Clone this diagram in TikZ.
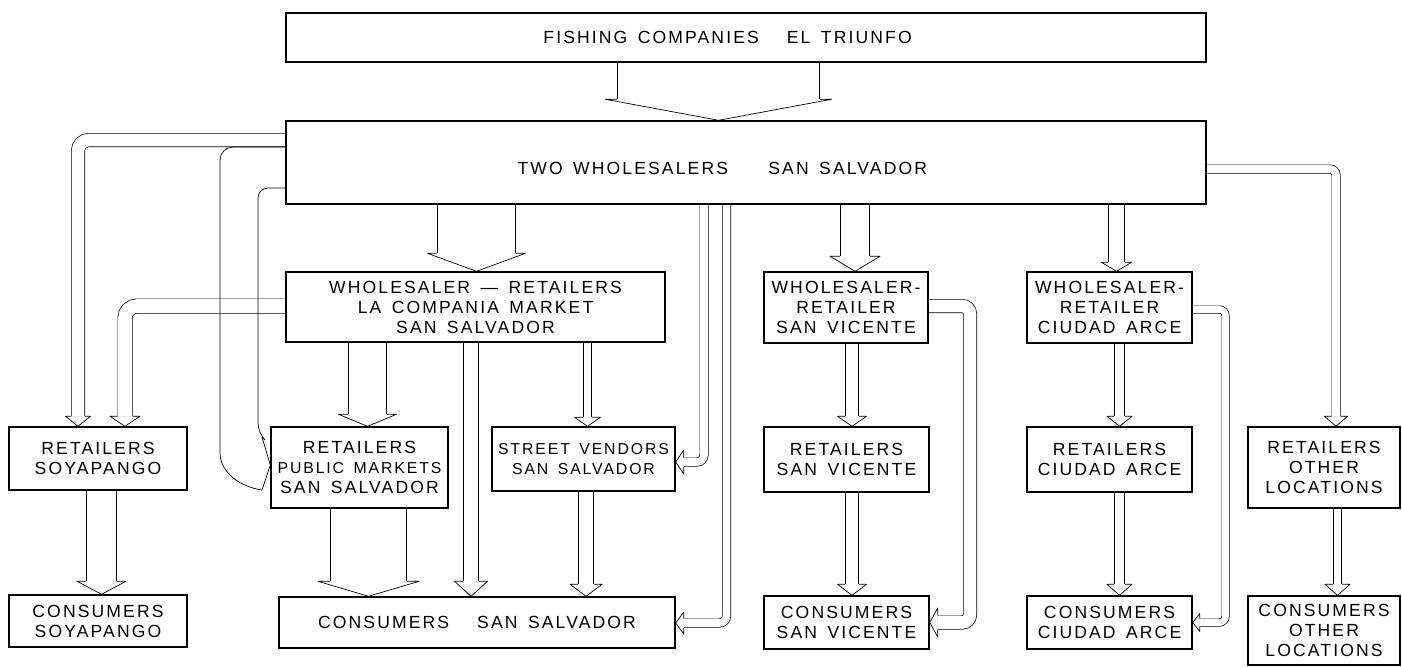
\documentclass[tikz,border=0pt]{standalone}
\usepackage{fontspec}
\usepackage{tikz}
\usetikzlibrary{calc,backgrounds}
\newfontfamily\lettering{Liberation Sans}[LetterSpace=12,WordSpace=1.5]

% open arrow head: tip, angle, shaft width, half width, length
\newcommand\tipat[5]{%
  \draw[tiphead, shift={(#1)}, rotate=#2] ({-#3/2},{-#5}) -- ({-#4},{-#5}) -- (0,0) -- ({#4},{-#5}) -- ({#3/2},{-#5});}
% straight hollow arrow: from, to, x, shaft width, half width, length
\newcommand\flowdown[6]{%
  \coordinate (tip) at (#3,0 |- #2.north);
  \draw[pipe=#4] (#3,0 |- #1.south) -- ($(tip)+(0,-#6)$);
  \tipat{tip}{0}{#4}{#5}{#6}}

\begin{document}
\begin{tikzpicture}[x=0.02cm, y=-0.02cm, line width=0.8pt,
  box/.style={draw, inner sep=0pt, align=center, font=\lettering\fontsize{10}{11.4}\selectfont},
  wh/.style 2 args={minimum width=#1*0.02cm, minimum height=#2*0.02cm},
  pipe/.style={double, double distance=#1*0.02cm-0.8pt},
  tiphead/.style={fill=white, line join=round}]
  \useasboundingbox (0,0) rectangle (1402,667);

  \node[box, wh={920}{49}] (fish) at (746,37.5) {\mbox{FISHING COMPANIES\hspace{10pt} EL TRIUNFO\hspace{21pt}}};
  \node[box, wh={920}{83}] (two) at (746,162.5) {\raisebox{-6.6pt}[0pt][0pt]{TWO WHOLESALERS\hspace{17pt} SAN SALVADOR\hspace{27pt}}};
  \node[box, wh={379}{70}] (lacomp) at (475.5,307) {WHOLESALER — RETAILERS\\LA COMPANIA MARKET\\SAN SALVADOR};
  \node[box, wh={164}{71}] (wrsv) at (846,307.5) {WHOLESALER-\\RETAILER\\SAN VICENTE};
  \node[box, wh={165}{71}] (wrca) at (1109.5,307.5) {WHOLESALER-\\RETAILER\\CIUDAD ARCE};

  \node[box, wh={178}{63}] (retsoy) at (98,458.5) {RETAILERS\\SOYAPANGO};
  \node[box, wh={177}{81}] (retpub) at (359.5,467.5) {RETAILERS\\{\fontsize{9}{11.4}\selectfont PUBLIC MARKETS}\\SAN SALVADOR};
  \node[box, wh={183}{64}, font=\lettering\fontsize{9}{11.4}\selectfont] (street) at (583.5,459) {STREET VENDORS\\SAN SALVADOR};
  \node[box, wh={165}{65}] (retsv) at (846.5,459.5) {RETAILERS\\SAN VICENTE};
  \node[box, wh={165}{65}] (retca) at (1109.5,459.5) {RETAILERS\\CIUDAD ARCE};
  \node[box, wh={152}{81}] (retoth) at (1324,467.5) {RETAILERS\\OTHER\\LOCATIONS};

  \node[box, wh={178}{52}] (consoy) at (98,621) {CONSUMERS\\SOYAPANGO};
  \node[box, wh={396}{51}] (conss) at (477,622.5) {CONSUMERS\hspace{10pt} SAN SALVADOR};
  \node[box, wh={165}{53}] (consv) at (846.5,622.5) {CONSUMERS\\SAN VICENTE};
  \node[box, wh={165}{53}] (conca) at (1109.5,622.5) {CONSUMERS\\CIUDAD ARCE};
  \node[box, wh={152}{69}] (conoth) at (1324,630.5) {CONSUMERS\\OTHER\\LOCATIONS};

  \begin{scope}[on background layer]
    \flowdown{fish}{two}{718.5}{203}{113}{21}
    \flowdown{two}{lacomp}{476.5}{79}{49}{18}
    \flowdown{two}{wrsv}{855}{30}{25}{15}
    \flowdown{two}{wrca}{1116.5}{17}{15}{9}
    \flowdown{lacomp}{retpub}{367.5}{39}{29}{12}
    \flowdown{lacomp}{street}{587.5}{9}{13}{9}
    \flowdown{lacomp}{conss}{471}{16}{16.5}{15}
    \flowdown{retsoy}{consoy}{101.5}{31}{24.5}{13}
    \flowdown{retpub}{conss}{368.5}{77}{50.5}{15}
    \flowdown{street}{conss}{586}{16}{16}{12}
    \flowdown{wrsv}{retsv}{852}{14}{14.5}{10}
    \flowdown{retsv}{consv}{852}{14}{14.5}{11}
    \flowdown{wrca}{retca}{1119.5}{11}{12.5}{10}
    \flowdown{retca}{conca}{1119.5}{11}{12.5}{11}
    \flowdown{retoth}{conoth}{1337.5}{9}{12.5}{11}

    % side feeds
    \coordinate (tip) at (78,0 |- retsoy.north);
    \draw[pipe=14, rounded corners=0.22cm] (two.west |- 0,140) -| ($(tip)+(0,-10)$);
    \tipat{tip}{0}{14}{12.5}{10}

    \coordinate (tip) at (125,0 |- retsoy.north);
    \draw[pipe=15, rounded corners=0.24cm] (lacomp.west |- 0,306) -| ($(tip)+(0,-10)$);
    \tipat{tip}{0}{15}{15}{10}

    \coordinate (tip) at (1336,0 |- retoth.north);
    \draw[pipe=9, rounded corners=0.12cm] (two.east |- 0,169) -| ($(tip)+(0,-10)$);
    \tipat{tip}{0}{9}{11.5}{10}

    \coordinate (tip) at (street.east |- 0,462);
    \draw[pipe=9, rounded corners=0.14cm] (704,0 |- two.south) |- ($(tip)+(8,0)$);
    \tipat{tip}{-90}{9}{12}{8}

    \coordinate (tip) at (conss.east |- 0,623);
    \draw[pipe=9, rounded corners=0.14cm] (726.5,0 |- two.south) |- ($(tip)+(8,0)$);
    \tipat{tip}{-90}{9}{11}{8}

    \coordinate (tip) at (consv.east |- 0,622.5);
    \draw[pipe=14, rounded corners=0.16cm] (wrsv.east |- 0,306) -| (970,450) |- ($(tip)+(8,0)$);
    \tipat{tip}{-90}{14}{14.5}{8}

    \coordinate (tip) at (conca.east |- 0,622.5);
    \draw[pipe=8, rounded corners=0.12cm] (wrca.east |- 0,309.5) -| (1225.5,450) |- ($(tip)+(7,0)$);
    \tipat{tip}{-90}{8}{9}{7}

    % wide feed into the public markets
    \draw[rounded corners=0.26cm] (two.west |- 0,147) -| (220,440) .. controls (220,472) and (240,487) .. (262,490);
    \draw[rounded corners=0.2cm] (two.west |- 0,188) -| (258,433) -- (262,437);
    \draw (262,437) -- (retpub.west |- 0,465) -- (262,490);
  \end{scope}
\end{tikzpicture}
\end{document}
